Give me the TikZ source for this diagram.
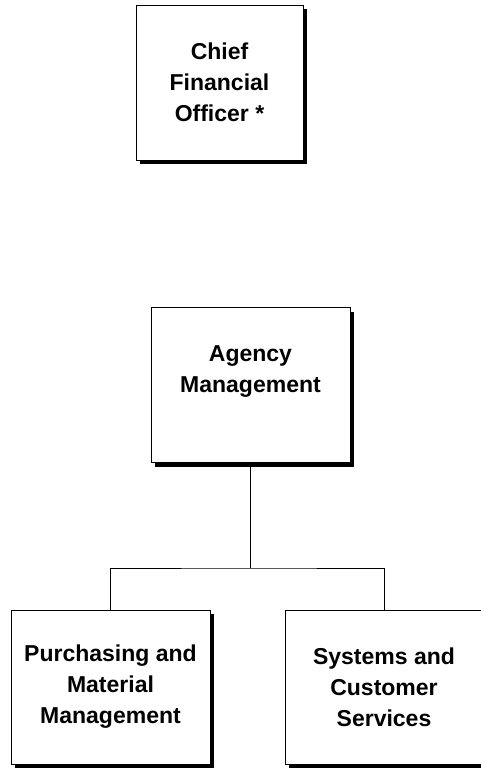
\documentclass[tikz,border=0pt]{standalone}
\usepackage{fontspec}
\setmainfont{Liberation Sans}
\usepackage{tikz}
\usetikzlibrary{shadows}

\tikzset{
  orgbox/.style={draw, fill=white, line width=1pt, align=center,
    font=\fontsize{23}{31}\selectfont\bfseries, inner sep=0pt,
    minimum width=199pt, minimum height=155pt,
    drop shadow={shadow xshift=4pt, shadow yshift=-4pt, fill=black, opacity=1}},
  link/.style={line width=1pt}
}

\begin{document}
\begin{tikzpicture}[x=1pt, y=-1pt]
    \useasboundingbox (0,0) rectangle (481,769);

    % Chief Financial Officer
    \node[orgbox, minimum width=167pt] (cfo) at (219.5,82.5) {Chief\\Financial\\Officer *};

    % Agency Management
    \node[orgbox] (agency) at (250.5,385) {Agency\\Management\\\mbox{}};

    % Divisions
    \node[orgbox, minimum height=154pt] (purch) at (110.5,687) {Purchasing and\\Material\\Management};
    \node[orgbox, minimum width=198pt, minimum height=154pt] (sys) at (384,687) {Systems and\\Customer\\Services};

    % Connectors
    \coordinate (bus) at (250.5,568);
    \draw[link] (agency.south) -- (bus);
    \draw[link] (purch.north) |- (bus) -| (sys.north);
\end{tikzpicture}
\end{document}
